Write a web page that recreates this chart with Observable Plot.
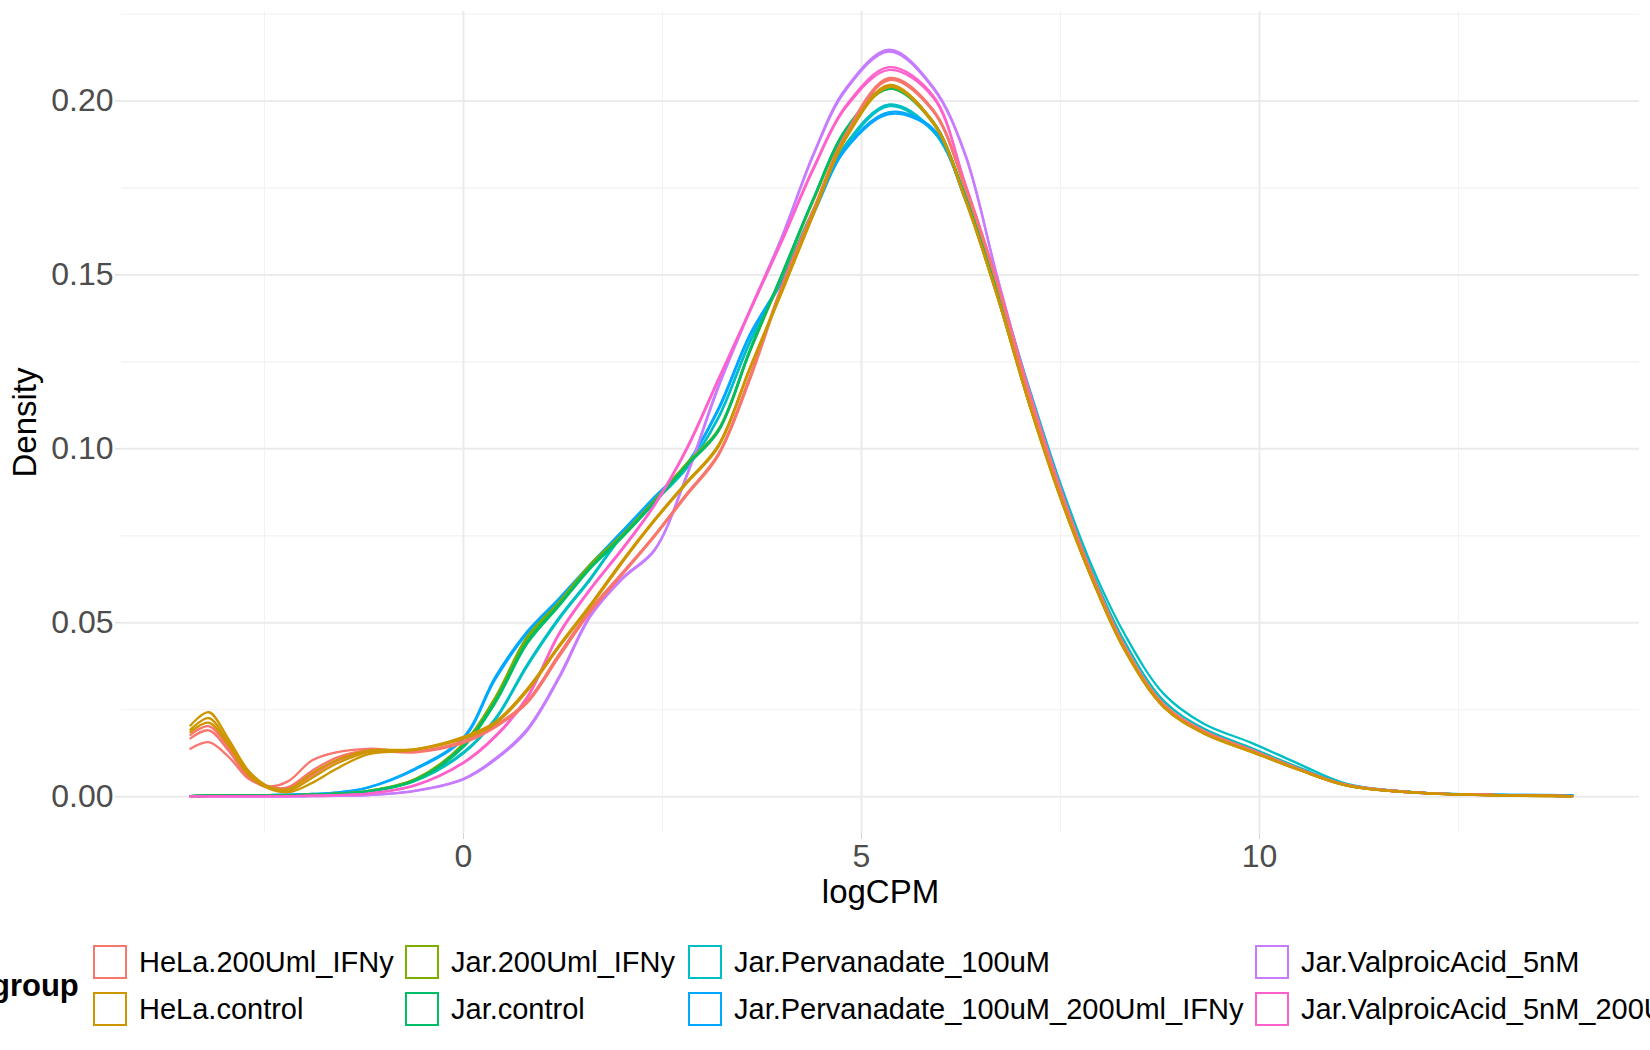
<!DOCTYPE html>
<html>
<head>
<meta charset="utf-8">
<script src="https://cdn.jsdelivr.net/npm/d3@7"></script>
<script src="https://cdn.jsdelivr.net/npm/@observablehq/plot@0.6"></script>
<style>
  body { margin: 0; background: #fff; width: 1650px; height: 1050px; overflow: hidden; position: relative;
         font-family: "Liberation Sans", Arial, Helvetica, sans-serif; }
  #chart { position: absolute; left: 0; top: 0; }
  #legend { position: absolute; left: 0; top: 0; width: 1650px; height: 1050px; }
  .lg-title { position: absolute; font-weight: bold; font-size: 31px; transform: translateY(-50%); white-space: nowrap; color: #000; }
  .lg-key { position: absolute; width: 30px; height: 30px; border: 2.4px solid; box-sizing: content-box; transform: translateY(-50%); background: #fff; }
  .lg-label { position: absolute; font-size: 29px; transform: translateY(-50%); white-space: nowrap; color: #000; }
</style>
</head>
<body>
<div id="chart"></div>
<div id="legend"></div>
<script>
// groups and ggplot hue colours
const groups = ['HeLa.200Uml_IFNy', 'HeLa.control', 'Jar.200Uml_IFNy', 'Jar.control',
  'Jar.Pervanadate_100uM', 'Jar.Pervanadate_100uM_200Uml_IFNy', 'Jar.ValproicAcid_5nM', 'Jar.ValproicAcid_5nM_200Uml_IFNy'];
const palette = ['#F8766D', '#CD9600', '#7CAE00', '#00BE67', '#00BFC4', '#00A9FF', '#C77CFF', '#FF61CC'];

// ticks
const majorX = [0, 5, 10];
const minorX = [-2.5, 2.5, 7.5, 12.5];
const majorY = [0, 0.05, 0.10, 0.15, 0.20];
const minorY = [0.025, 0.075, 0.125, 0.175, 0.225];

const logcpm = [-3.43, -3.2, -2.95, -2.7, -2.45, -2.2, -1.9, -1.6, -1.2, -0.6, 0,
  0.4, 0.8, 1.2, 1.6, 2.0, 2.4, 2.8, 3.2, 3.6, 4.0, 4.4, 4.8, 5.35,
  5.9, 6.3, 6.7, 7.1, 7.5, 7.9, 8.3, 8.8, 9.3, 9.9, 10.5, 11.1, 12.0, 13.0, 13.93];

// densities per sample (same order as logcpm)
const jar_perv_1 = [0.0002, 0.0003, 0.0004, 0.0004, 0.0004, 0.0005, 0.0007, 0.0010, 0.0016, 0.0048, 0.0128,
  0.0225, 0.0380, 0.0515, 0.0630, 0.0755, 0.0850, 0.0945, 0.1090, 0.1310, 0.1490, 0.1690, 0.1875, 0.1990,
  0.1915, 0.1735, 0.1480, 0.1180, 0.0900, 0.0660, 0.0470, 0.0295, 0.0210, 0.0155, 0.0094, 0.0037, 0.0012, 0.0005, 0.0004];
const jar_perv_2 = [0.0002, 0.0003, 0.0004, 0.0004, 0.0004, 0.0005, 0.0007, 0.0010, 0.0015, 0.0046, 0.0125,
  0.0221, 0.0375, 0.0510, 0.0626, 0.0752, 0.0848, 0.0943, 0.1087, 0.1306, 0.1486, 0.1686, 0.1870, 0.1985,
  0.1912, 0.1730, 0.1470, 0.1165, 0.0885, 0.0645, 0.0448, 0.0275, 0.0196, 0.0140, 0.0084, 0.0035, 0.0012, 0.0005, 0.0004];
const jar_perv_ifn_1 = [0.0002, 0.0004, 0.0005, 0.0005, 0.0005, 0.0006, 0.0008, 0.0012, 0.0027, 0.0082, 0.0171,
  0.0345, 0.0475, 0.0570, 0.0670, 0.0765, 0.0862, 0.0955, 0.1115, 0.1330, 0.1485, 0.1680, 0.1865, 0.1968,
  0.1920, 0.1720, 0.1445, 0.1138, 0.0864, 0.0627, 0.0429, 0.0262, 0.0188, 0.0133, 0.0080, 0.0034, 0.0012, 0.0006, 0.0005];
const jar_perv_ifn_2 = [0.0002, 0.0004, 0.0005, 0.0005, 0.0005, 0.0006, 0.0008, 0.0012, 0.0026, 0.0079, 0.0167,
  0.0338, 0.0470, 0.0566, 0.0667, 0.0762, 0.0859, 0.0952, 0.1110, 0.1325, 0.1480, 0.1676, 0.1860, 0.1962,
  0.1916, 0.1718, 0.1443, 0.1137, 0.0863, 0.0626, 0.0428, 0.0261, 0.0187, 0.0132, 0.0080, 0.0034, 0.0012, 0.0006, 0.0005];
const jar_vpa_1 = [0.0001, 0.0001, 0.0001, 0.0001, 0.0001, 0.0001, 0.0002, 0.0003, 0.0005, 0.0018, 0.0052,
  0.0110, 0.0195, 0.0345, 0.0525, 0.0630, 0.0710, 0.0922, 0.1180, 0.1400, 0.1610, 0.1850, 0.2035, 0.2147,
  0.2040, 0.1850, 0.1500, 0.1170, 0.0885, 0.0636, 0.0431, 0.0261, 0.0186, 0.0131, 0.0078, 0.0033, 0.0011, 0.0005, 0.0002];
const jar_vpa_2 = [0.0001, 0.0001, 0.0001, 0.0001, 0.0001, 0.0001, 0.0002, 0.0003, 0.0005, 0.0017, 0.0050,
  0.0106, 0.0190, 0.0340, 0.0520, 0.0627, 0.0708, 0.0918, 0.1175, 0.1396, 0.1606, 0.1846, 0.2030, 0.2142,
  0.2036, 0.1846, 0.1498, 0.1169, 0.0884, 0.0635, 0.0431, 0.0261, 0.0186, 0.0131, 0.0078, 0.0033, 0.0011, 0.0005, 0.0002];
const jar_ifn_1 = [0.0002, 0.0003, 0.0003, 0.0003, 0.0003, 0.0004, 0.0006, 0.0009, 0.0017, 0.0052, 0.0153,
  0.0286, 0.0460, 0.0560, 0.0670, 0.0755, 0.0853, 0.0957, 0.1055, 0.1285, 0.1500, 0.1720, 0.1915, 0.2040,
  0.1940, 0.1725, 0.1455, 0.1145, 0.0870, 0.0630, 0.0428, 0.0260, 0.0187, 0.0132, 0.0079, 0.0033, 0.0012, 0.0005, 0.0002];
const jar_ifn_2 = [0.0002, 0.0003, 0.0003, 0.0003, 0.0003, 0.0004, 0.0006, 0.0009, 0.0016, 0.0050, 0.0148,
  0.0280, 0.0452, 0.0555, 0.0665, 0.0752, 0.0850, 0.0953, 0.1050, 0.1280, 0.1495, 0.1715, 0.1910, 0.2035,
  0.1936, 0.1722, 0.1452, 0.1143, 0.0868, 0.0628, 0.0427, 0.0259, 0.0186, 0.0131, 0.0078, 0.0033, 0.0012, 0.0005, 0.0002];
const jar_ctrl_1 = [0.0002, 0.0003, 0.0003, 0.0003, 0.0003, 0.0004, 0.0006, 0.0009, 0.0016, 0.0049, 0.0147,
  0.0275, 0.0445, 0.0552, 0.0662, 0.0750, 0.0848, 0.0952, 0.1052, 0.1285, 0.1502, 0.1722, 0.1918, 0.2040,
  0.1940, 0.1728, 0.1458, 0.1148, 0.0872, 0.0632, 0.0430, 0.0262, 0.0188, 0.0133, 0.0079, 0.0033, 0.0012, 0.0005, 0.0002];
const jar_ctrl_2 = [0.0002, 0.0003, 0.0003, 0.0003, 0.0003, 0.0004, 0.0006, 0.0008, 0.0015, 0.0047, 0.0143,
  0.0270, 0.0440, 0.0548, 0.0658, 0.0747, 0.0845, 0.0950, 0.1050, 0.1282, 0.1500, 0.1720, 0.1915, 0.2035,
  0.1937, 0.1726, 0.1456, 0.1147, 0.0871, 0.0631, 0.0429, 0.0261, 0.0187, 0.0132, 0.0079, 0.0033, 0.0012, 0.0005, 0.0002];
const jar_vpa_ifn_1 = [0.0001, 0.0001, 0.0002, 0.0002, 0.0002, 0.0002, 0.0003, 0.0005, 0.0009, 0.0034, 0.0099,
  0.0175, 0.0287, 0.0470, 0.0600, 0.0715, 0.0840, 0.1000, 0.1200, 0.1400, 0.1600, 0.1810, 0.1985, 0.2097,
  0.2015, 0.1765, 0.1485, 0.1170, 0.0884, 0.0637, 0.0431, 0.0261, 0.0186, 0.0131, 0.0078, 0.0033, 0.0011, 0.0005, 0.0002];
const jar_vpa_ifn_2 = [0.0001, 0.0001, 0.0002, 0.0002, 0.0002, 0.0002, 0.0003, 0.0005, 0.0009, 0.0033, 0.0097,
  0.0172, 0.0283, 0.0466, 0.0597, 0.0712, 0.0837, 0.0996, 0.1196, 0.1396, 0.1596, 0.1805, 0.1980, 0.2089,
  0.2010, 0.1762, 0.1483, 0.1169, 0.0883, 0.0636, 0.0431, 0.0261, 0.0186, 0.0131, 0.0078, 0.0033, 0.0011, 0.0005, 0.0002];
const hela_ifn_1 = [0.0178, 0.0203, 0.0140, 0.0058, 0.0030, 0.0045, 0.0105, 0.0128, 0.0138, 0.0131, 0.0160,
  0.0205, 0.0275, 0.0410, 0.0540, 0.0645, 0.0752, 0.0870, 0.0985, 0.1210, 0.1470, 0.1690, 0.1905, 0.2066,
  0.1975, 0.1755, 0.1480, 0.1160, 0.0880, 0.0638, 0.0435, 0.0265, 0.0190, 0.0135, 0.0080, 0.0034, 0.0012, 0.0005, 0.0002];
const hela_ifn_2 = [0.0168, 0.0191, 0.0132, 0.0055, 0.0026, 0.0028, 0.0075, 0.0112, 0.0133, 0.0130, 0.0158,
  0.0202, 0.0272, 0.0405, 0.0536, 0.0642, 0.0750, 0.0868, 0.0982, 0.1205, 0.1465, 0.1688, 0.1900, 0.2062,
  0.1972, 0.1752, 0.1478, 0.1158, 0.0879, 0.0637, 0.0434, 0.0264, 0.0189, 0.0134, 0.0080, 0.0034, 0.0012, 0.0005, 0.0002];
const hela_ifn_3 = [0.0138, 0.0157, 0.0115, 0.0052, 0.0030, 0.0025, 0.0062, 0.0102, 0.0130, 0.0128, 0.0155,
  0.0200, 0.0270, 0.0402, 0.0533, 0.0640, 0.0748, 0.0865, 0.0980, 0.1200, 0.1462, 0.1685, 0.1900, 0.2060,
  0.1970, 0.1750, 0.1476, 0.1157, 0.0878, 0.0636, 0.0434, 0.0264, 0.0189, 0.0134, 0.0080, 0.0034, 0.0012, 0.0005, 0.0002];
const hela_ctrl_1 = [0.0205, 0.0243, 0.0165, 0.0075, 0.0030, 0.0022, 0.0068, 0.0105, 0.0133, 0.0137, 0.0172,
  0.0215, 0.0310, 0.0435, 0.0554, 0.0680, 0.0797, 0.0904, 0.1010, 0.1235, 0.1455, 0.1680, 0.1895, 0.2046,
  0.1940, 0.1722, 0.1445, 0.1135, 0.0860, 0.0625, 0.0425, 0.0258, 0.0183, 0.0130, 0.0077, 0.0032, 0.0011, 0.0004, 0.0002];
const hela_ctrl_2 = [0.0193, 0.0226, 0.0155, 0.0068, 0.0027, 0.0017, 0.0055, 0.0095, 0.0128, 0.0136, 0.0170,
  0.0213, 0.0307, 0.0432, 0.0551, 0.0677, 0.0795, 0.0902, 0.1007, 0.1232, 0.1452, 0.1678, 0.1893, 0.2043,
  0.1938, 0.1720, 0.1443, 0.1134, 0.0859, 0.0624, 0.0424, 0.0257, 0.0182, 0.0129, 0.0077, 0.0032, 0.0011, 0.0004, 0.0002];
const hela_ctrl_3 = [0.0186, 0.0213, 0.0148, 0.0062, 0.0024, 0.0013, 0.0040, 0.0080, 0.0122, 0.0135, 0.0167,
  0.0210, 0.0304, 0.0430, 0.0549, 0.0675, 0.0793, 0.0900, 0.1005, 0.1230, 0.1450, 0.1675, 0.1890, 0.2040,
  0.1936, 0.1718, 0.1442, 0.1133, 0.0858, 0.0623, 0.0424, 0.0257, 0.0182, 0.0129, 0.0077, 0.0032, 0.0011, 0.0004, 0.0002];

// samples in drawing order (later ones on top)
const samples = [
  ['Jar.Pervanadate_100uM', jar_perv_1], ['Jar.Pervanadate_100uM', jar_perv_2],
  ['Jar.Pervanadate_100uM_200Uml_IFNy', jar_perv_ifn_1], ['Jar.Pervanadate_100uM_200Uml_IFNy', jar_perv_ifn_2],
  ['Jar.ValproicAcid_5nM', jar_vpa_1], ['Jar.ValproicAcid_5nM', jar_vpa_2],
  ['Jar.200Uml_IFNy', jar_ifn_1], ['Jar.200Uml_IFNy', jar_ifn_2],
  ['Jar.control', jar_ctrl_1], ['Jar.control', jar_ctrl_2],
  ['Jar.ValproicAcid_5nM_200Uml_IFNy', jar_vpa_ifn_1], ['Jar.ValproicAcid_5nM_200Uml_IFNy', jar_vpa_ifn_2],
  ['HeLa.200Uml_IFNy', hela_ifn_1], ['HeLa.200Uml_IFNy', hela_ifn_2], ['HeLa.200Uml_IFNy', hela_ifn_3],
  ['HeLa.control', hela_ctrl_1], ['HeLa.control', hela_ctrl_2], ['HeLa.control', hela_ctrl_3],
];

// long table for Plot
const rows = samples.flatMap(([group, dens], i) =>
  dens.map((d, j) => ({sample: 's' + i, group, logCPM: logcpm[j], density: d})));

const font = '"Liberation Sans", Arial, Helvetica, sans-serif';

let chart = Plot.plot({
  width: 1650,
  height: 930,
  marginLeft: 121,
  marginRight: 11,
  marginTop: 11,
  marginBottom: 97,
  style: {fontFamily: font, background: 'white', overflow: 'visible'},
  x: {domain: [-4.296, 14.774]},
  y: {domain: [-0.01055, 0.2257]},
  color: {domain: groups, range: palette},
  marks: [
    Plot.ruleX(minorX, {stroke: '#F2F2F2', strokeWidth: 1.1}),
    Plot.ruleY(minorY, {stroke: '#F2F2F2', strokeWidth: 1.1}),
    Plot.ruleX(majorX, {stroke: '#EBEBEB', strokeWidth: 2}),
    Plot.ruleY(majorY, {stroke: '#EBEBEB', strokeWidth: 2}),
    Plot.axisX({ticks: majorX, tickSize: 6, tickPadding: 5, stroke: '#D4D4D4', fill: '#4D4D4D',
      fontSize: 32, tickFormat: d3.format('d'), label: null}),
    Plot.axisY({ticks: majorY, tickSize: 6, tickPadding: 2, stroke: '#D4D4D4', fill: '#4D4D4D',
      fontSize: 32, tickFormat: d3.format('.2f'), label: null}),
    Plot.line(rows, {
      x: 'logCPM', y: 'density', z: 'sample', stroke: 'group',
      strokeWidth: 2.3, curve: 'catmull-rom'
    }),
    Plot.text(['logCPM'], {frameAnchor: 'bottom', dy: 69, fontSize: 33, fill: '#000'}),
    Plot.text(['Density'], {frameAnchor: 'left', dx: -96, rotate: -90, textAnchor: 'middle', fontSize: 33, fill: '#000'}),
  ],
})
d3.select('#chart').append(() => chart)

// legend (ggplot style, filled by column)
const colLeft = [93, 405, 688, 1255];
const rowMid = [961.5, 1009];
const legend = d3.select('#legend');
legend.append('div').attr('class', 'lg-title')
  .style('left', '-9px').style('top', '986px').text('group');
groups.forEach((g, i) => {
  const c = Math.floor(i / 2), r = i % 2;
  legend.append('div').attr('class', 'lg-key')
    .style('left', colLeft[c] + 'px').style('top', rowMid[r] + 'px')
    .style('border-color', palette[i]);
  legend.append('div').attr('class', 'lg-label')
    .style('left', (colLeft[c] + 46) + 'px').style('top', rowMid[r] + 'px')
    .text(g);
});
</script>
</body>
</html>
